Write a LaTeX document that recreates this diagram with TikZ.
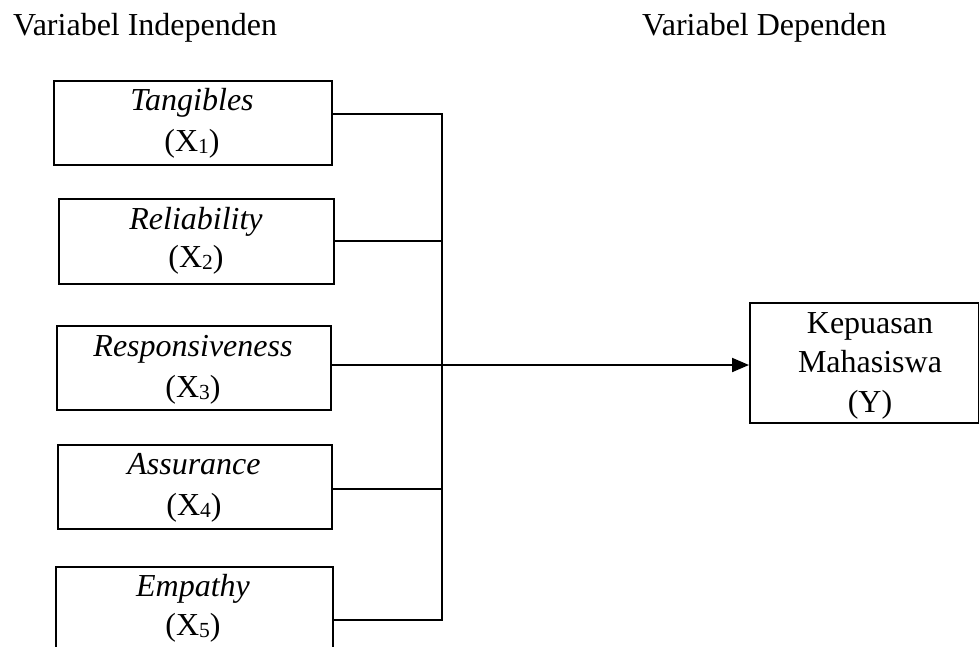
\documentclass[tikz,border=0pt]{standalone}
\usepackage{fontspec}
\setmainfont{Liberation Serif}
\usetikzlibrary{arrows.meta}
\newcommand{\sbx}[1]{\raisebox{-2pt}{\fontsize{21.5}{21.5}\selectfont #1}}
\tikzset{
  box/.style={draw, line width=1.7pt, inner sep=0pt, anchor=north west},
  lbl/.style={inner sep=0pt, anchor=base, font=\fontsize{32}{37}\selectfont},
  hdr/.style={inner sep=0pt, anchor=base west, font=\fontsize{32}{37}\selectfont},
  conn/.style={line width=2pt},
  arr/.style={line width=2pt, -{Triangle[length=17pt,width=14pt]}}
}
\begin{document}
\begin{tikzpicture}[x=1pt,y=-1pt]
\useasboundingbox (0,0) rectangle (979,646);
\clip (0,0) rectangle (979,646);
% headers
\node[hdr] (h1) at (13,35) {Variabel Independen};
\node[hdr] (h2) at (642,35) {Variabel Dependen};
% boxes
\node[box, minimum width=278pt, minimum height=84pt] (b1) at (53,80) {};
\node[box, minimum width=275pt, minimum height=85pt] (b2) at (58,198) {};
\node[box, minimum width=274pt, minimum height=84pt] (b3) at (56,325) {};
\node[box, minimum width=274pt, minimum height=84pt] (b4) at (57,444) {};
\node[box, minimum width=277pt, minimum height=120pt] (b5) at (55,566) {};
\node[box, minimum width=229pt, minimum height=120pt] (bY) at (749,302) {};
% texts
\node[lbl] (t1a) at (192,110) {\textit{Tangibles}};
\node[lbl] (t1b) at (192,151) {(X\sbx{1})};
\node[lbl] (t2a) at (196,229) {\textit{Reliability}};
\node[lbl] (t2b) at (196,267) {(X\sbx{2})};
\node[lbl] (t3a) at (193,356) {\textit{Responsiveness}};
\node[lbl] (t3b) at (193,397) {(X\sbx{3})};
\node[lbl] (t4a) at (194,474) {\textit{Assurance}};
\node[lbl] (t4b) at (194,515) {(X\sbx{4})};
\node[lbl] (t5a) at (193,596) {\textit{Empathy}};
\node[lbl] (t5b) at (193,635) {(X\sbx{5})};
\node[lbl] (tya) at (870,333) {Kepuasan};
\node[lbl] (tyb) at (870,372) {Mahasiswa};
\node[lbl] (tyc) at (870,412) {(Y)};
% junctions
\coordinate (j1) at (442,114);
\coordinate (j2) at (442,241);
\coordinate (j3) at (442,365);
\coordinate (j4) at (442,489);
\coordinate (j5) at (442,620);
% connectors
\draw[conn] (b1.east |- j1) -- (j1) -- (j5) -- (b5.east |- j5);
\draw[conn] (b2.east |- j2) -- (j2);
\draw[conn] (b3.east |- j3) -- (j3);
\draw[conn] (b4.east |- j4) -- (j4);
\draw[arr] (j3) -- (bY.west |- j3);
\end{tikzpicture}
\end{document}
